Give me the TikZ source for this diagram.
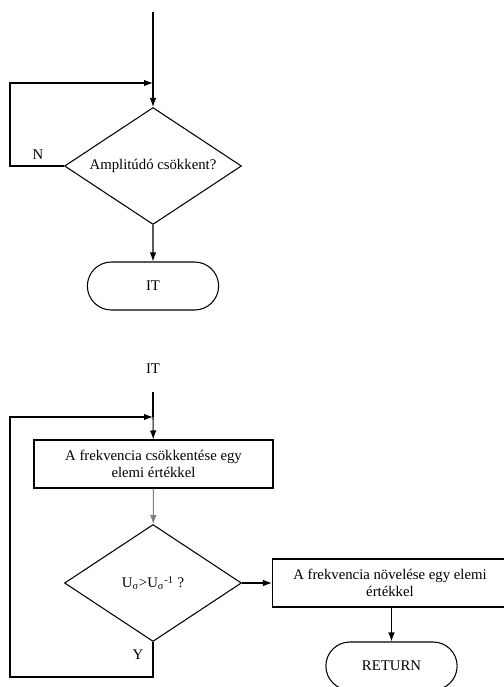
\documentclass[tikz,border=0pt]{standalone}
\usepackage{fontspec}
\setmainfont{Liberation Serif}
\usetikzlibrary{arrows.meta}
\usetikzlibrary{shapes.geometric}
\usetikzlibrary{shapes.misc}

\begin{document}
\begin{tikzpicture} [
        x=0.02cm, y=-0.02cm,
        decision/.style={draw, diamond, aspect=1.5, inner sep=0pt, minimum width=3.54cm, minimum height=2.34cm},
        process/.style={draw, rectangle, minimum height=0.96cm, inner sep=1pt},
        terminal/.style={draw, rounded rectangle, minimum width=2.86cm, minimum height=0.96cm},
        font=\fontsize{8.4}{10}\selectfont,
        align=center,
        line width=0.6pt,
        >={Latex[length=1.8mm,width=1.3mm]} ]
    \useasboundingbox (0,0) rectangle (504,687);
    % first part
    \coordinate (s1) at (153,12);
    \coordinate (m1) at (153,83);
    \coordinate (l1) at (10,83);
    \node[decision] (d1) at (153,166) {Amplitúdó csökkent?};
    \node (n) at (38,155) {N};
    \node[terminal] (it1) at (153,286) {IT};
    \draw (s1) -- (m1);
    \draw[->] (m1) -- (d1.north);
    \draw[->] (d1.west) -| (l1) -- (m1);
    \draw[->] (d1.south) -- (it1);
    % second part
    \node (it2) at (153,369) {IT};
    \coordinate (s2) at (153,392);
    \coordinate (m2) at (153,417);
    \coordinate (l2) at (10,677);
    \coordinate (l3) at (10,417);
    \node[process, minimum width=4.78cm] (p1) at (153.5,464) {A frekvencia csökkentése egy\\elemi értékkel};
    \node[decision] (d2) at (153,583) {U\textsubscript{σ}>U\textsubscript{σ}\textsuperscript{-1} ?};
    \node[process, minimum width=4.7cm] (p2) at (390,583) {A frekvencia növelése egy elemi\\értékkel};
    \node[terminal] (ret) at (391.5,666) {RETURN};
    \node (y) at (138,655) {Y};
    \draw (s2) -- (m2);
    \draw[->] (m2) -- (p1);
    \draw[->, gray] (p1) -- (d2);
    \draw[->] (d2.east) -- (p2.west);
    \draw[->] (ret.north |- p2.south) -- (ret.north);
    \draw[->] (d2.south) |- (l2) -- (l3) -- (m2);
\end{tikzpicture}
\end{document}
